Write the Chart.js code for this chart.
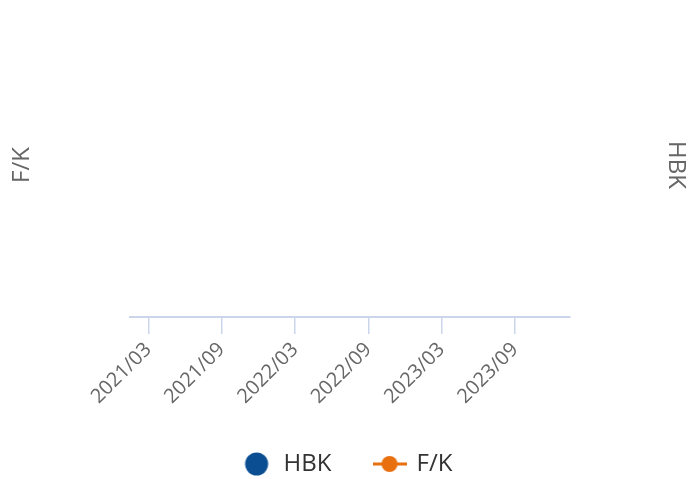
<!DOCTYPE html>
<html>
<head>
<meta charset="utf-8">
<script src="https://cdn.jsdelivr.net/npm/chart.js@4.4.1/dist/chart.umd.min.js"></script>
<style>
  html, body { margin: 0; padding: 0; background: #ffffff; }
  #wrap { width: 694px; height: 479px; }
</style>
</head>
<body>
<div id="wrap"><canvas id="grafico"></canvas></div>
<script>
// meses del eje X (el gráfico original no muestra datos)
const meses = [
  "2021/02", "2021/03", "2021/04", "2021/05", "2021/06", "2021/07",
  "2021/08", "2021/09", "2021/10", "2021/11", "2021/12", "2022/01",
  "2022/02", "2022/03", "2022/04", "2022/05", "2022/06", "2022/07",
  "2022/08", "2022/09", "2022/10", "2022/11", "2022/12", "2023/01",
  "2023/02", "2023/03", "2023/04", "2023/05", "2023/06", "2023/07",
  "2023/08", "2023/09", "2023/10", "2023/11", "2023/12", "2024/01"
];
// series vacías: no hay ningún punto ni barra visible
const valoresHBK = [];
const valoresFK = [];

const AZUL = "#0b4f92";
const NARANJA = "#e8700e";
const EJE = "#ccd6eb";
const FUENTE = "'Open Sans', 'Noto Sans', sans-serif";

// iconos de la leyenda
function iconoCirculo() {
  const c = document.createElement("canvas");
  c.width = 30; c.height = 24;
  const g = c.getContext("2d");
  g.fillStyle = AZUL;
  g.beginPath();
  g.arc(15, 12, 11.5, 0, Math.PI * 2);
  g.fill();
  return c;
}
function iconoLinea() {
  const c = document.createElement("canvas");
  c.width = 34; c.height = 24;
  const g = c.getContext("2d");
  g.strokeStyle = NARANJA;
  g.lineWidth = 3;
  g.beginPath();
  g.moveTo(0, 12); g.lineTo(34, 12);
  g.stroke();
  g.fillStyle = NARANJA;
  g.beginPath();
  g.arc(17, 12, 8, 0, Math.PI * 2);
  g.fill();
  return c;
}

const esMarca = (i) => /\/(03|09)$/.test(meses[i]);

new Chart(document.getElementById("grafico"), {
  type: "line",
  data: {
    labels: meses,
    datasets: [
      {
        type: "bar",
        label: "HBK",
        data: valoresHBK,
        backgroundColor: AZUL,
        yAxisID: "yDer"
      },
      {
        label: "F/K",
        data: valoresFK,
        borderColor: NARANJA,
        backgroundColor: NARANJA,
        yAxisID: "yIzq"
      }
    ]
  },
  options: {
    responsive: true,
    maintainAspectRatio: false,
    animation: false,
    layout: { padding: { top: 13, bottom: -7, left: 0, right: 0 } },
    scales: {
      x: {
        type: "category",
        offset: true,
        grid: {
          display: true,
          offset: false,
          drawOnChartArea: false,
          drawTicks: true,
          tickLength: 17,
          lineWidth: 1.5,
          color: (ctx) => esMarca(ctx.index) ? EJE : "rgba(0,0,0,0)"
        },
        border: { display: true, color: EJE, width: 2 },
        ticks: {
          autoSkip: false,
          minRotation: 45,
          maxRotation: 45,
          padding: 4,
          color: "#666666",
          font: { family: FUENTE, size: 20 },
          callback: function (v, i) { return esMarca(i) ? meses[i] : ""; }
        },
        afterFit: (s) => { s.height = 92; }
      },
      yIzq: {
        position: "left",
        grid: { display: false },
        border: { display: false },
        ticks: { display: false },
        title: {
          display: true,
          text: "F/K",
          color: "#666666",
          padding: { top: 8, bottom: 0 },
          font: { family: FUENTE, size: 24 }
        },
        afterFit: (s) => { s.width = 130; }
      },
      yDer: {
        position: "right",
        grid: { display: false },
        border: { display: false },
        ticks: { display: false },
        title: {
          display: true,
          text: "HBK",
          color: "#666666",
          padding: { top: 4, bottom: 0 },
          font: { family: FUENTE, size: 24 }
        },
        afterFit: (s) => { s.width = 124; }
      }
    },
    plugins: {
      tooltip: { enabled: false },
      legend: {
        position: "bottom",
        labels: {
          usePointStyle: true,
          pointStyleWidth: 30,
          padding: 43,
          color: "#333333",
          font: { family: FUENTE, size: 24 },
          generateLabels: () => [
            { text: "HBK", pointStyle: iconoCirculo(), fontColor: "#333333", hidden: false, datasetIndex: 0, lineWidth: 0 },
            { text: "F/K", pointStyle: iconoLinea(), fontColor: "#333333", hidden: false, datasetIndex: 1, lineWidth: 0 }
          ]
        }
      }
    }
  }
});
</script>
</body>
</html>
